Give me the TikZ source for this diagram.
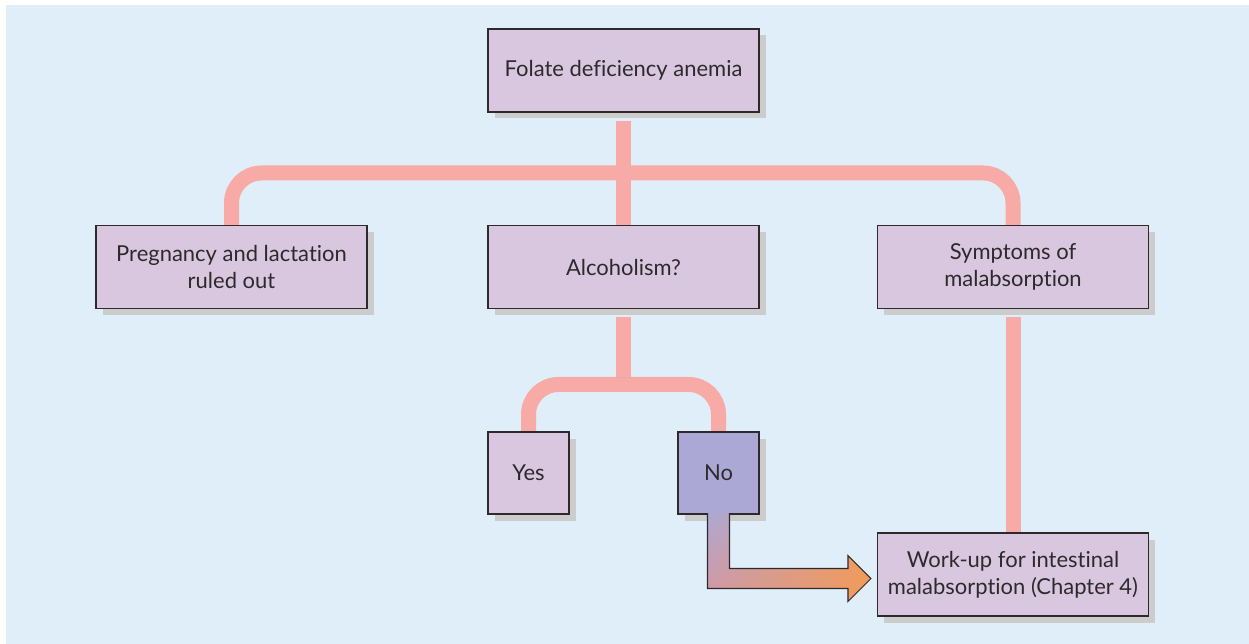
\documentclass[tikz,border=0pt]{standalone}
\usepackage{fontspec}
\setmainfont{Lato}[RawFeature={-liga;-clig;-calt;-dlig}]
\usetikzlibrary{shadows,shadings,calc,backgrounds}

\definecolor{bgblue}{HTML}{E0EEF9}
\definecolor{boxlilac}{HTML}{D9C7E0}
\definecolor{nolilac}{HTML}{ACA8D5}
\definecolor{linkpink}{HTML}{F8ABA6}
\definecolor{arroworange}{HTML}{F29A5A}
\definecolor{arrowrose}{HTML}{D6979C}
\definecolor{inkgrey}{HTML}{2E2A2C}

\tikzset{
  box/.style={draw=inkgrey, line width=0.6pt, fill=boxlilac, text=inkgrey,
    minimum width=5.42cm, minimum height=1.66cm, align=center, inner sep=0pt,
    font=\fontsize{12.5}{15.4}\selectfont,
    drop shadow={shadow xshift=0.13cm, shadow yshift=-0.13cm, fill=black!20, opacity=1}},
  smallbox/.style={box, minimum width=1.62cm, minimum height=1.64cm},
  link/.style={draw=linkpink, line width=0.3cm, rounded corners=0.6cm},
}

\begin{document}
\begin{tikzpicture}
    \useasboundingbox (0,0) rectangle (24.98,-12.88);

    \node[box] (folate) at (12.47,-1.41) {Folate deficiency anemia};
    \node[box] (pregnancy) at (4.63,-5.34) {Pregnancy and lactation\\ruled out};
    \node[box] (alcohol) at (12.47,-5.34) {Alcoholism?};
    \node[box] (symptoms) at (20.26,-5.34) {Symptoms of\\malabsorption};
    \node[smallbox] (yes) at (10.57,-9.46) {Yes};
    \node[smallbox, fill=nolilac] (no) at (14.37,-9.46) {No};
    \node[box] (workup) at (20.26,-11.49) {Work-up for intestinal\\malabsorption (Chapter 4)};

    \begin{scope}[on background layer]
        \fill[bgblue] (0.12,-0.10) rectangle (24.98,-12.88);
        \draw[link] (pregnancy.north) -- ++(0,1.04) -| (symptoms.north);
        \draw[link, shorten <=0.16cm] (folate) -- (alcohol);
        \draw[link] (yes.north) -- ++(0,0.94) -| (no.north);
        \draw[link, shorten <=0.16cm] (alcohol.south) -- ++(0,-1.52);
        \draw[link, shorten <=0.16cm] (symptoms) -- (workup);
    \end{scope}

    % fat arrow from "No" to the work-up box
    \coordinate (tip) at ($(workup.west)+(-0.12,-0.08)$);
    \shade[draw=inkgrey, line width=0.6pt, line join=miter,
        upper left=nolilac, lower left=arrowrose,
        upper right=arroworange, lower right=arroworange]
        ($(no.south)+(-0.22,0.03)$) |- ($(tip)+(-0.46,-0.2)$) -- ++(0,-0.26)
        -- (tip) -- ($(tip)+(-0.46,0.46)$) -- ++(0,-0.26)
        -| ($(no.south)+(0.22,0.03)$);
\end{tikzpicture}
\end{document}
